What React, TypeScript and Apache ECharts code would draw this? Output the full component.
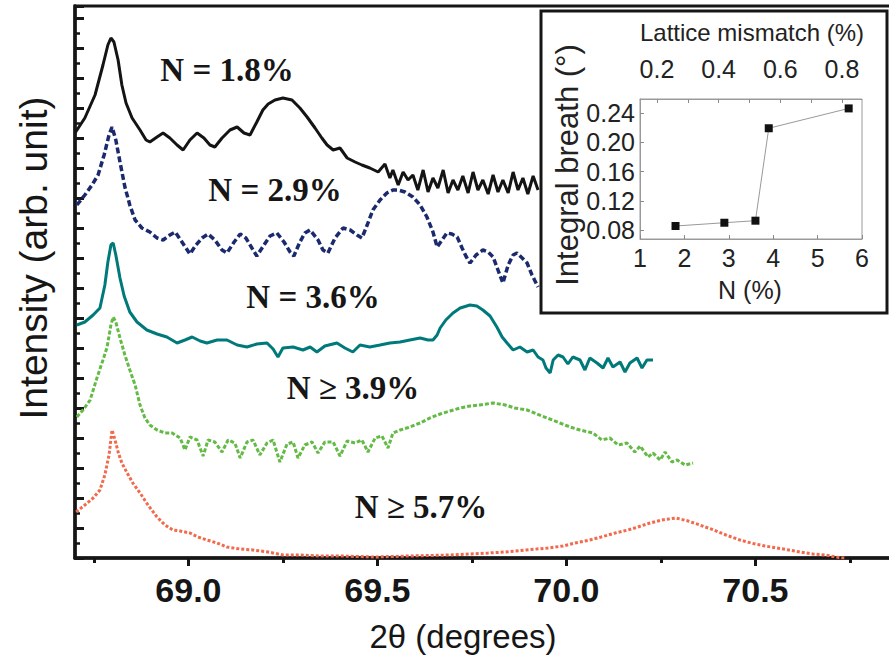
import React, { useEffect, useRef } from 'react';
import * as echarts from 'echarts';

// ---------- main panel: XRD scans, [2θ (deg), intensity (arb. unit, offset)] ----------
const SCAN_N18: number[][] = [
  [68.700, 42.5], [68.726, 44.0], [68.753, 46.3], [68.774, 49.3], [68.787, 51.3], [68.795, 52.0],
  [68.803, 51.6], [68.814, 49.8], [68.824, 47.3], [68.835, 45.5], [68.851, 44.0], [68.872, 42.8],
  [68.888, 41.8], [68.898, 41.6], [68.917, 42.1], [68.933, 42.5], [68.951, 42.0], [68.970, 41.3],
  [68.986, 40.8], [69.004, 41.8], [69.023, 42.5], [69.041, 42.0], [69.057, 41.3], [69.070, 41.1],
  [69.089, 42.0], [69.110, 42.8], [69.129, 43.1], [69.147, 42.5], [69.163, 42.3], [69.181, 43.6],
  [69.197, 44.8], [69.211, 45.4], [69.229, 45.8], [69.250, 46.0], [69.274, 45.8], [69.295, 45.0],
  [69.314, 44.1], [69.335, 43.0], [69.353, 42.0], [69.367, 41.3], [69.383, 40.8], [69.401, 41.0],
  [69.420, 40.0], [69.441, 39.6], [69.459, 39.3], [69.480, 39.0], [69.502, 38.6], [69.520, 39.4],
  [69.533, 38.0], [69.541, 38.8], [69.555, 37.3], [69.568, 38.6], [69.581, 37.8], [69.594, 38.3],
  [69.607, 36.8], [69.621, 38.8], [69.634, 36.6], [69.647, 38.0], [69.660, 37.0], [69.674, 38.8],
  [69.687, 36.5], [69.700, 37.8], [69.713, 36.8], [69.726, 38.2], [69.740, 36.5], [69.753, 38.6],
  [69.766, 36.8], [69.779, 37.8], [69.793, 36.4], [69.806, 38.3], [69.819, 36.6], [69.832, 37.8],
  [69.846, 36.5], [69.859, 38.6], [69.872, 36.8], [69.885, 38.0], [69.898, 36.4], [69.912, 38.2],
  [69.925, 36.8],
];

const SCAN_N29: number[][] = [
  [68.705, 35.3], [68.726, 36.3], [68.745, 37.3], [68.761, 38.3], [68.777, 40.3], [68.790, 42.3],
  [68.798, 43.1], [68.808, 41.8], [68.819, 39.6], [68.832, 37.1], [68.845, 35.3], [68.859, 33.8],
  [68.877, 33.0], [68.898, 32.6], [68.917, 32.0], [68.933, 31.8], [68.951, 32.3], [68.965, 32.6],
  [68.983, 31.6], [69.004, 30.4], [69.020, 31.3], [69.036, 32.0], [69.052, 32.4], [69.070, 31.8],
  [69.089, 30.8], [69.102, 30.5], [69.121, 31.6], [69.137, 32.4], [69.152, 32.0], [69.168, 31.0],
  [69.181, 30.2], [69.200, 31.3], [69.216, 32.2], [69.234, 32.5], [69.253, 31.6], [69.269, 30.6],
  [69.279, 30.2], [69.295, 31.6], [69.308, 32.5], [69.322, 32.8], [69.343, 31.8], [69.356, 30.8],
  [69.369, 30.5], [69.388, 32.0], [69.409, 33.0], [69.428, 32.8], [69.446, 32.3], [69.459, 32.0],
  [69.473, 33.3], [69.488, 34.8], [69.507, 35.8], [69.525, 36.5], [69.541, 36.8], [69.555, 36.8],
  [69.573, 36.6], [69.594, 36.1], [69.613, 35.3], [69.631, 34.1], [69.647, 32.6], [69.658, 31.1],
  [69.671, 31.8], [69.684, 32.5], [69.697, 32.4], [69.711, 32.1], [69.724, 31.0], [69.734, 30.2],
  [69.745, 29.5], [69.761, 30.3], [69.779, 30.8], [69.793, 30.6], [69.806, 30.1], [69.819, 28.8],
  [69.832, 27.5], [69.846, 29.3], [69.859, 30.3], [69.869, 30.5], [69.883, 30.0], [69.896, 29.5],
  [69.909, 28.3], [69.925, 27.1],
];

const SCAN_N36: number[][] = [
  [68.705, 23.3], [68.726, 23.6], [68.748, 24.3], [68.766, 25.0], [68.779, 27.3], [68.787, 29.6],
  [68.795, 31.3], [68.801, 31.5], [68.808, 30.3], [68.819, 28.0], [68.830, 26.2], [68.845, 24.6],
  [68.864, 23.6], [68.890, 22.8], [68.917, 22.4], [68.943, 22.1], [68.970, 21.5], [68.991, 21.8],
  [69.010, 22.1], [69.031, 21.7], [69.049, 21.5], [69.076, 21.8], [69.102, 21.8], [69.129, 21.3],
  [69.155, 21.1], [69.181, 21.4], [69.208, 21.5], [69.224, 20.9], [69.237, 20.1], [69.250, 21.0],
  [69.277, 21.1], [69.303, 20.8], [69.322, 21.1], [69.340, 20.6], [69.361, 21.2], [69.393, 21.5],
  [69.414, 21.0], [69.435, 20.6], [69.454, 21.3], [69.480, 21.1], [69.507, 21.3], [69.533, 21.5],
  [69.560, 21.6], [69.586, 21.8], [69.613, 22.0], [69.634, 21.8], [69.647, 21.8], [69.658, 22.3],
  [69.666, 23.0], [69.681, 23.8], [69.700, 24.5], [69.719, 25.0], [69.745, 25.3], [69.763, 25.2],
  [69.779, 24.8], [69.798, 24.2], [69.816, 23.1], [69.830, 22.1], [69.843, 21.5], [69.859, 20.8],
  [69.877, 21.1], [69.896, 20.6], [69.912, 20.8], [69.925, 20.1], [69.938, 19.8], [69.946, 19.0],
  [69.957, 18.5], [69.965, 19.8], [69.978, 20.3], [69.991, 20.1], [70.004, 19.4], [70.017, 20.1],
  [70.036, 19.8], [70.049, 18.8], [70.062, 20.0], [70.081, 19.5], [70.097, 19.0], [70.110, 20.0],
  [70.123, 19.1], [70.142, 19.6], [70.155, 18.6], [70.168, 19.5], [70.187, 20.0], [70.200, 19.0],
  [70.213, 19.8], [70.229, 19.8],
];

const SCAN_N39: number[][] = [
  [68.705, 14.1], [68.721, 14.8], [68.740, 15.8], [68.758, 18.0], [68.774, 19.8], [68.785, 21.1],
  [68.795, 23.3], [68.801, 24.1], [68.808, 23.6], [68.819, 22.0], [68.832, 20.3], [68.845, 18.8],
  [68.859, 17.3], [68.872, 15.3], [68.885, 14.0], [68.898, 13.3], [68.917, 12.8], [68.938, 12.5],
  [68.957, 12.5], [68.978, 12.0], [68.991, 10.8], [69.004, 12.1], [69.023, 11.8], [69.039, 10.2],
  [69.052, 11.8], [69.070, 11.6], [69.089, 10.6], [69.105, 11.8], [69.123, 11.5], [69.137, 10.0],
  [69.155, 11.6], [69.171, 11.8], [69.189, 10.3], [69.208, 11.5], [69.224, 11.8], [69.242, 9.6],
  [69.261, 11.4], [69.277, 11.6], [69.290, 10.0], [69.308, 11.3], [69.327, 11.6], [69.343, 10.5],
  [69.361, 11.6], [69.383, 11.6], [69.401, 10.2], [69.420, 11.7], [69.441, 11.5], [69.459, 11.8],
  [69.475, 10.6], [69.494, 12.0], [69.512, 12.2], [69.528, 11.0], [69.541, 12.5], [69.560, 12.8],
  [69.586, 13.1], [69.613, 13.5], [69.639, 14.0], [69.666, 14.4], [69.692, 14.7], [69.719, 15.0],
  [69.745, 15.2], [69.771, 15.3], [69.806, 15.5], [69.838, 15.3], [69.864, 15.0], [69.896, 14.8],
  [69.922, 14.4], [69.949, 14.0], [69.983, 13.5], [70.010, 13.1], [70.036, 12.8], [70.070, 12.5],
  [70.094, 11.8], [70.115, 12.0], [70.137, 11.3], [70.160, 11.5], [70.181, 10.6], [70.195, 11.2],
  [70.216, 10.1], [70.229, 10.5], [70.248, 9.8], [70.261, 10.6], [70.279, 9.6], [70.293, 9.8],
  [70.314, 9.3], [70.335, 9.5],
];

const SCAN_N57: number[][] = [
  [68.703, 4.6], [68.726, 5.3], [68.748, 6.0], [68.766, 6.8], [68.779, 8.3], [68.790, 10.3],
  [68.798, 12.8], [68.806, 11.8], [68.814, 10.6], [68.824, 9.5], [68.838, 8.5], [68.853, 7.5],
  [68.872, 6.5], [68.893, 5.3], [68.917, 4.1], [68.938, 3.3], [68.959, 2.8], [68.978, 2.7],
  [69.004, 2.5], [69.025, 2.1], [69.049, 1.8], [69.076, 1.5], [69.102, 1.1], [69.137, 0.9],
  [69.171, 0.8], [69.211, 0.6], [69.250, 0.3], [69.295, 0.3], [69.348, 0.2], [69.401, 0.2],
  [69.494, 0.1], [69.586, 0.2], [69.692, 0.3], [69.745, 0.4], [69.793, 0.5], [69.838, 0.6],
  [69.893, 0.8], [69.951, 1.0], [69.991, 1.2], [70.023, 1.5], [70.062, 1.8], [70.092, 2.1],
  [70.129, 2.5], [70.163, 2.8], [70.189, 3.1], [70.221, 3.5], [70.253, 3.8], [70.290, 4.0],
  [70.322, 3.7], [70.353, 3.3], [70.390, 2.8], [70.422, 2.3], [70.459, 1.8], [70.488, 1.5],
  [70.525, 1.2], [70.557, 1.0], [70.589, 0.8], [70.618, 0.6], [70.652, 0.4], [70.687, 0.3],
  [70.711, 0.1], [70.737, 0.0],
];

const CURVE_LABELS = ['N = 1.8%', 'N = 2.9%', 'N = 3.6%', 'N \u2265 3.9%', 'N \u2265 5.7%'];
const X_TICKS = [69.0, 69.5, 70.0, 70.5];
const X_MINOR_TICKS = [68.75, 69.25, 69.75, 70.25, 70.75];

// ---------- inset: integral breadth vs N ----------
const INSET_N = [1.8, 2.9, 3.6, 3.9, 5.7];
const INSET_BREADTH = [0.0855, 0.090, 0.0928, 0.2195, 0.2467];
const INSET_Y_TICKS = [0.08, 0.12, 0.16, 0.20, 0.24];
const INSET_X_TICKS = [1, 2, 3, 4, 5, 6];
const MISMATCH_LABELS = [0.2, 0.4, 0.6, 0.8];
const MISMATCH_TICKS = [0.2, 0.3, 0.4, 0.5, 0.6, 0.7, 0.8];

const SANS = '"Liberation Sans", Arial, Helvetica, sans-serif';
const SERIF = '"Liberation Serif", "Times New Roman", serif';
const INK = '#161616';

export default function App() {
  const ref = useRef<HTMLDivElement>(null);

  useEffect(() => {
    document.body.style.margin = '0';
    const chart = echarts.init(ref.current!, null, { renderer: 'svg' });

    const labelPos = [
      [227, 70], [275, 190], [313, 297], [353, 388], [421, 507],
    ];

    const option: any = {
      animation: false,
      backgroundColor: '#ffffff',
      grid: [
        {
          left: 75, top: 6, right: -4, bottom: 101,
          show: true, borderColor: INK, borderWidth: 3,
          outerBoundsMode: 'none',
        },
        {
          left: 640, top: 99, width: 222, height: 140,
          show: true, borderColor: '#9a9a9a', borderWidth: 1,
          outerBoundsMode: 'none',
        },
      ],
      xAxis: [
        {
          type: 'value', gridIndex: 0, position: 'bottom', min: 68.7, max: 70.864,
          axisLine: { show: true, onZero: false, lineStyle: { color: INK, width: 3.5 } },
          axisTick: { show: true, inside: false, length: 8, customValues: X_TICKS, lineStyle: { color: INK, width: 3 } },
          axisLabel: {
            show: true, customValues: X_TICKS, formatter: (v: number) => v.toFixed(1),
            fontSize: 34, fontWeight: 'bold', fontFamily: SANS, color: INK, margin: 15,
          },
          splitLine: { show: false },
        },
        {
          type: 'value', gridIndex: 0, position: 'bottom', min: 68.7, max: 70.864,
          axisLine: { show: false, onZero: false },
          axisTick: { show: true, inside: false, length: 5, customValues: X_MINOR_TICKS, lineStyle: { color: INK, width: 3 } },
          axisLabel: { show: false },
          splitLine: { show: false },
        },
        {
          type: 'value', gridIndex: 1, position: 'bottom', min: 1, max: 6, interval: 1,
          axisLine: { show: true, onZero: false, lineStyle: { color: '#9a9a9a', width: 1 } },
          axisTick: { show: true, inside: true, length: 4, customValues: INSET_X_TICKS, lineStyle: { color: '#8a8a8a', width: 1 } },
          axisLabel: { show: true, customValues: INSET_X_TICKS, fontSize: 25, fontFamily: SANS, color: '#222', margin: 6 },
          splitLine: { show: false },
        },
        {
          type: 'value', gridIndex: 1, position: 'top', min: 0.145, max: 0.865,
          axisLine: { show: true, onZero: false, lineStyle: { color: '#9a9a9a', width: 1 } },
          axisTick: { show: true, inside: true, length: 4, customValues: MISMATCH_TICKS, lineStyle: { color: '#8a8a8a', width: 1 } },
          axisLabel: {
            show: true, customValues: MISMATCH_LABELS, formatter: (v: number) => v.toFixed(1),
            fontSize: 25, fontFamily: SANS, color: '#222', margin: 18,
          },
          splitLine: { show: false },
        },
      ],
      yAxis: [
        {
          type: 'value', gridIndex: 0, min: 0, max: 55.2, interval: 3,
          axisLine: { show: true, onZero: false, lineStyle: { color: INK, width: 3.5 } },
          axisTick: { show: true, inside: true, length: 9, lineStyle: { color: INK, width: 3 } },
          minorTick: { show: true, splitNumber: 2, length: 5, lineStyle: { color: INK, width: 2.5 } },
          axisLabel: { show: false },
          splitLine: { show: false },
          minorSplitLine: { show: false },
        },
        {
          type: 'value', gridIndex: 1, min: 0.0677, max: 0.2596,
          axisLine: { show: true, onZero: false, lineStyle: { color: '#9a9a9a', width: 1 } },
          axisTick: { show: true, inside: true, length: 4, customValues: INSET_Y_TICKS, lineStyle: { color: '#8a8a8a', width: 1 } },
          axisLabel: {
            show: true, customValues: INSET_Y_TICKS, formatter: (v: number) => v.toFixed(2),
            fontSize: 25, fontFamily: SANS, color: '#222', margin: 5,
          },
          splitLine: { show: false },
        },
      ],
      series: [
        {
          type: 'line', xAxisIndex: 0, yAxisIndex: 0, data: SCAN_N18, showSymbol: false,
          lineStyle: { color: '#141414', width: 3 },
        },
        {
          type: 'line', xAxisIndex: 0, yAxisIndex: 0, data: SCAN_N29, showSymbol: false,
          lineStyle: { color: '#1b2a6e', width: 3.5, type: [6, 3] },
        },
        {
          type: 'line', xAxisIndex: 0, yAxisIndex: 0, data: SCAN_N36, showSymbol: false,
          lineStyle: { color: '#00797a', width: 3 },
        },
        {
          type: 'line', xAxisIndex: 0, yAxisIndex: 0, data: SCAN_N39, showSymbol: false,
          lineStyle: { color: '#63bb45', width: 3, type: [4, 2] },
        },
        {
          type: 'line', xAxisIndex: 0, yAxisIndex: 0, data: SCAN_N57, showSymbol: false,
          lineStyle: { color: '#f2694b', width: 3, type: [3, 2] },
        },
        {
          type: 'line', xAxisIndex: 2, yAxisIndex: 1,
          data: INSET_N.map((n, i) => [n, INSET_BREADTH[i]]),
          symbol: 'rect', symbolSize: 8, showSymbol: true,
          itemStyle: { color: '#111' },
          lineStyle: { color: '#999', width: 1 },
        },
      ],
      graphic: [
        {
          type: 'rect', shape: { x: 541, y: 11, width: 346, height: 302 },
          style: { fill: 'rgba(0,0,0,0)', stroke: INK, lineWidth: 3 }, z: 5,
        },
        ...CURVE_LABELS.map((t, i) => ({
          type: 'text', x: labelPos[i][0], y: labelPos[i][1], z: 6,
          style: {
            text: t, font: `bold 33px ${SERIF}`, fill: INK,
            align: 'center', verticalAlign: 'middle',
          },
        })),
        {
          type: 'text', x: 33, y: 258, rotation: Math.PI / 2, z: 6,
          style: { text: 'Intensity (arb. unit)', font: `39px ${SANS}`, fill: INK, align: 'center', verticalAlign: 'middle' },
        },
        {
          type: 'text', x: 463, y: 636, z: 6,
          style: { text: '2\u03b8 (degrees)', font: `33px ${SANS}`, fill: INK, align: 'center', verticalAlign: 'middle' },
        },
        {
          type: 'text', x: 752, y: 32, z: 6,
          style: { text: 'Lattice mismatch (%)', font: `24px ${SANS}`, fill: '#222', align: 'center', verticalAlign: 'middle' },
        },
        {
          type: 'text', x: 750, y: 290, z: 6,
          style: { text: 'N (%)', font: `25px ${SANS}`, fill: '#222', align: 'center', verticalAlign: 'middle' },
        },
        {
          type: 'text', x: 567, y: 165, rotation: Math.PI / 2, z: 6,
          style: { text: 'Integral breath (\u00b0)', font: `31px ${SANS}`, fill: '#222', align: 'center', verticalAlign: 'middle' },
        },
      ],
    };

    chart.setOption(option);
    return () => chart.dispose();
  }, []);

  return <div ref={ref} style={{ width: 889, height: 659 }} />;
}
